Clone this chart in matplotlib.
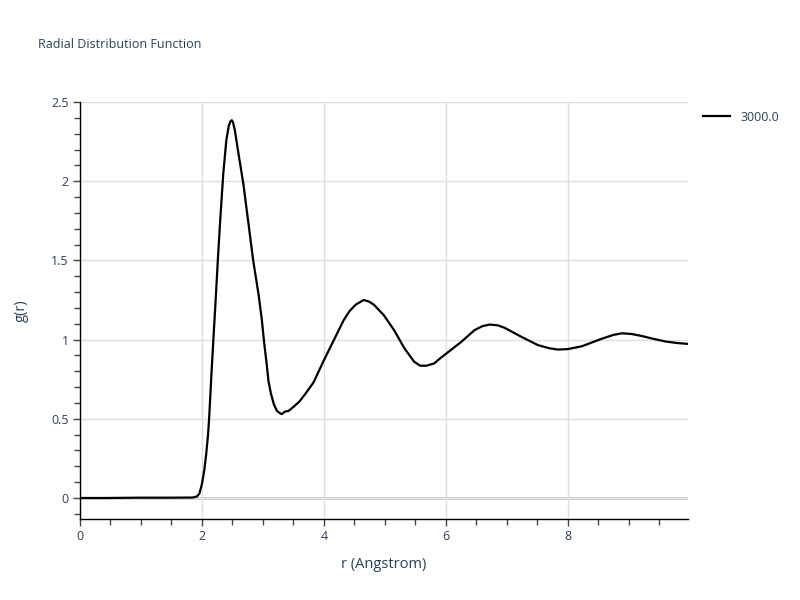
import matplotlib
matplotlib.use("Agg")
import matplotlib.pyplot as plt
from matplotlib.ticker import MultipleLocator

r = [0.0, 0.4, 1.0, 1.5, 1.85, 1.92, 1.96, 2.0, 2.04, 2.07, 2.10, 2.12, 2.155, 2.19, 2.22, 2.26,
     2.30, 2.35, 2.40, 2.44, 2.47, 2.49, 2.51, 2.54, 2.58, 2.63, 2.68, 2.76, 2.84, 2.93, 2.98,
     3.02, 3.06, 3.09, 3.13, 3.18, 3.23, 3.28, 3.31, 3.36, 3.42, 3.5, 3.6, 3.7, 3.83, 4.0, 4.16,
     4.32, 4.42, 4.52, 4.65, 4.74, 4.82, 4.98, 5.15, 5.32, 5.48, 5.58, 5.68, 5.81, 5.9, 6.0, 6.25,
     6.47, 6.6, 6.72, 6.85, 6.96, 7.24, 7.51, 7.7, 7.84, 8.0, 8.23, 8.56, 8.75, 8.89, 9.05, 9.22,
     9.4, 9.6, 9.8, 9.97]
g = [0.0, 0.0, 0.002, 0.002, 0.003, 0.01, 0.03, 0.09, 0.18, 0.28, 0.40, 0.52, 0.78, 1.02, 1.22, 1.50,
     1.76, 2.05, 2.26, 2.35, 2.38, 2.385, 2.37, 2.32, 2.22, 2.10, 1.98, 1.74, 1.50, 1.28, 1.13,
     0.98, 0.85, 0.74, 0.66, 0.59, 0.55, 0.535, 0.53, 0.545, 0.55, 0.575, 0.61, 0.66, 0.73, 0.87, 0.995,
     1.12, 1.18, 1.22, 1.25, 1.24, 1.22, 1.155, 1.06, 0.945, 0.86, 0.835, 0.835, 0.85, 0.88, 0.91, 0.985,
     1.06, 1.085, 1.095, 1.09, 1.075, 1.017, 0.965, 0.945, 0.937, 0.94, 0.958, 1.006, 1.03, 1.04, 1.035, 1.022,
     1.005, 0.988, 0.978, 0.973]

series_name = "3000.0"
title = "Radial Distribution Function"
xlabel = "r (Angstrom)"
ylabel = "g(r)"

text_color = "#2a3f5f"
grid_color = "#dedede"

plt.rcParams['font.family'] = ['Open Sans', 'DejaVu Sans']

fig = plt.figure(figsize=(8, 6), dpi=100)
ax = fig.add_axes([0.1, 0.135, 0.76, 0.695])

ax.plot(r, g, color="black", lw=1.6, label=series_name, solid_joinstyle="round")

ax.set_xlim(0, 9.97)
ax.set_ylim(-0.1326, 2.5)

ax.xaxis.set_major_locator(MultipleLocator(2))
ax.xaxis.set_minor_locator(MultipleLocator(0.5))
ax.yaxis.set_major_locator(MultipleLocator(0.5))
ax.yaxis.set_minor_locator(MultipleLocator(0.1))

ax.grid(True, which="major", color=grid_color, lw=1)
ax.axhline(0, color="#cccccc", lw=2, zorder=0.5)
ax.set_axisbelow(True)

for s in ["top", "right"]:
    ax.spines[s].set_visible(False)
for s in ["left", "bottom"]:
    ax.spines[s].set_color("black")
    ax.spines[s].set_linewidth(1)

ax.tick_params(which="major", direction="out", length=5, width=1, color="#444444",
               labelcolor=text_color, labelsize=9, pad=3)
ax.tick_params(which="minor", direction="out", length=4, width=1, color="#444444")

ax.set_xticklabels([f"{int(t)}" for t in ax.get_xticks()])
ax.yaxis.set_major_formatter(matplotlib.ticker.FuncFormatter(lambda v, p: f"{v:g}"))

ax.set_xlabel(xlabel, color=text_color, fontsize=10.5, labelpad=10)
ax.set_ylabel(ylabel, color=text_color, fontsize=10.5, labelpad=16)

fig.text(0.048, 0.925, title, color=text_color, fontsize=9, ha="left", va="center")

leg = ax.legend(loc="upper left", bbox_to_anchor=(1.01, 1.0), frameon=False,
                handlelength=2.2, fontsize=9, labelcolor=text_color, borderaxespad=0.3)

fig.savefig("out.png", dpi=100)
